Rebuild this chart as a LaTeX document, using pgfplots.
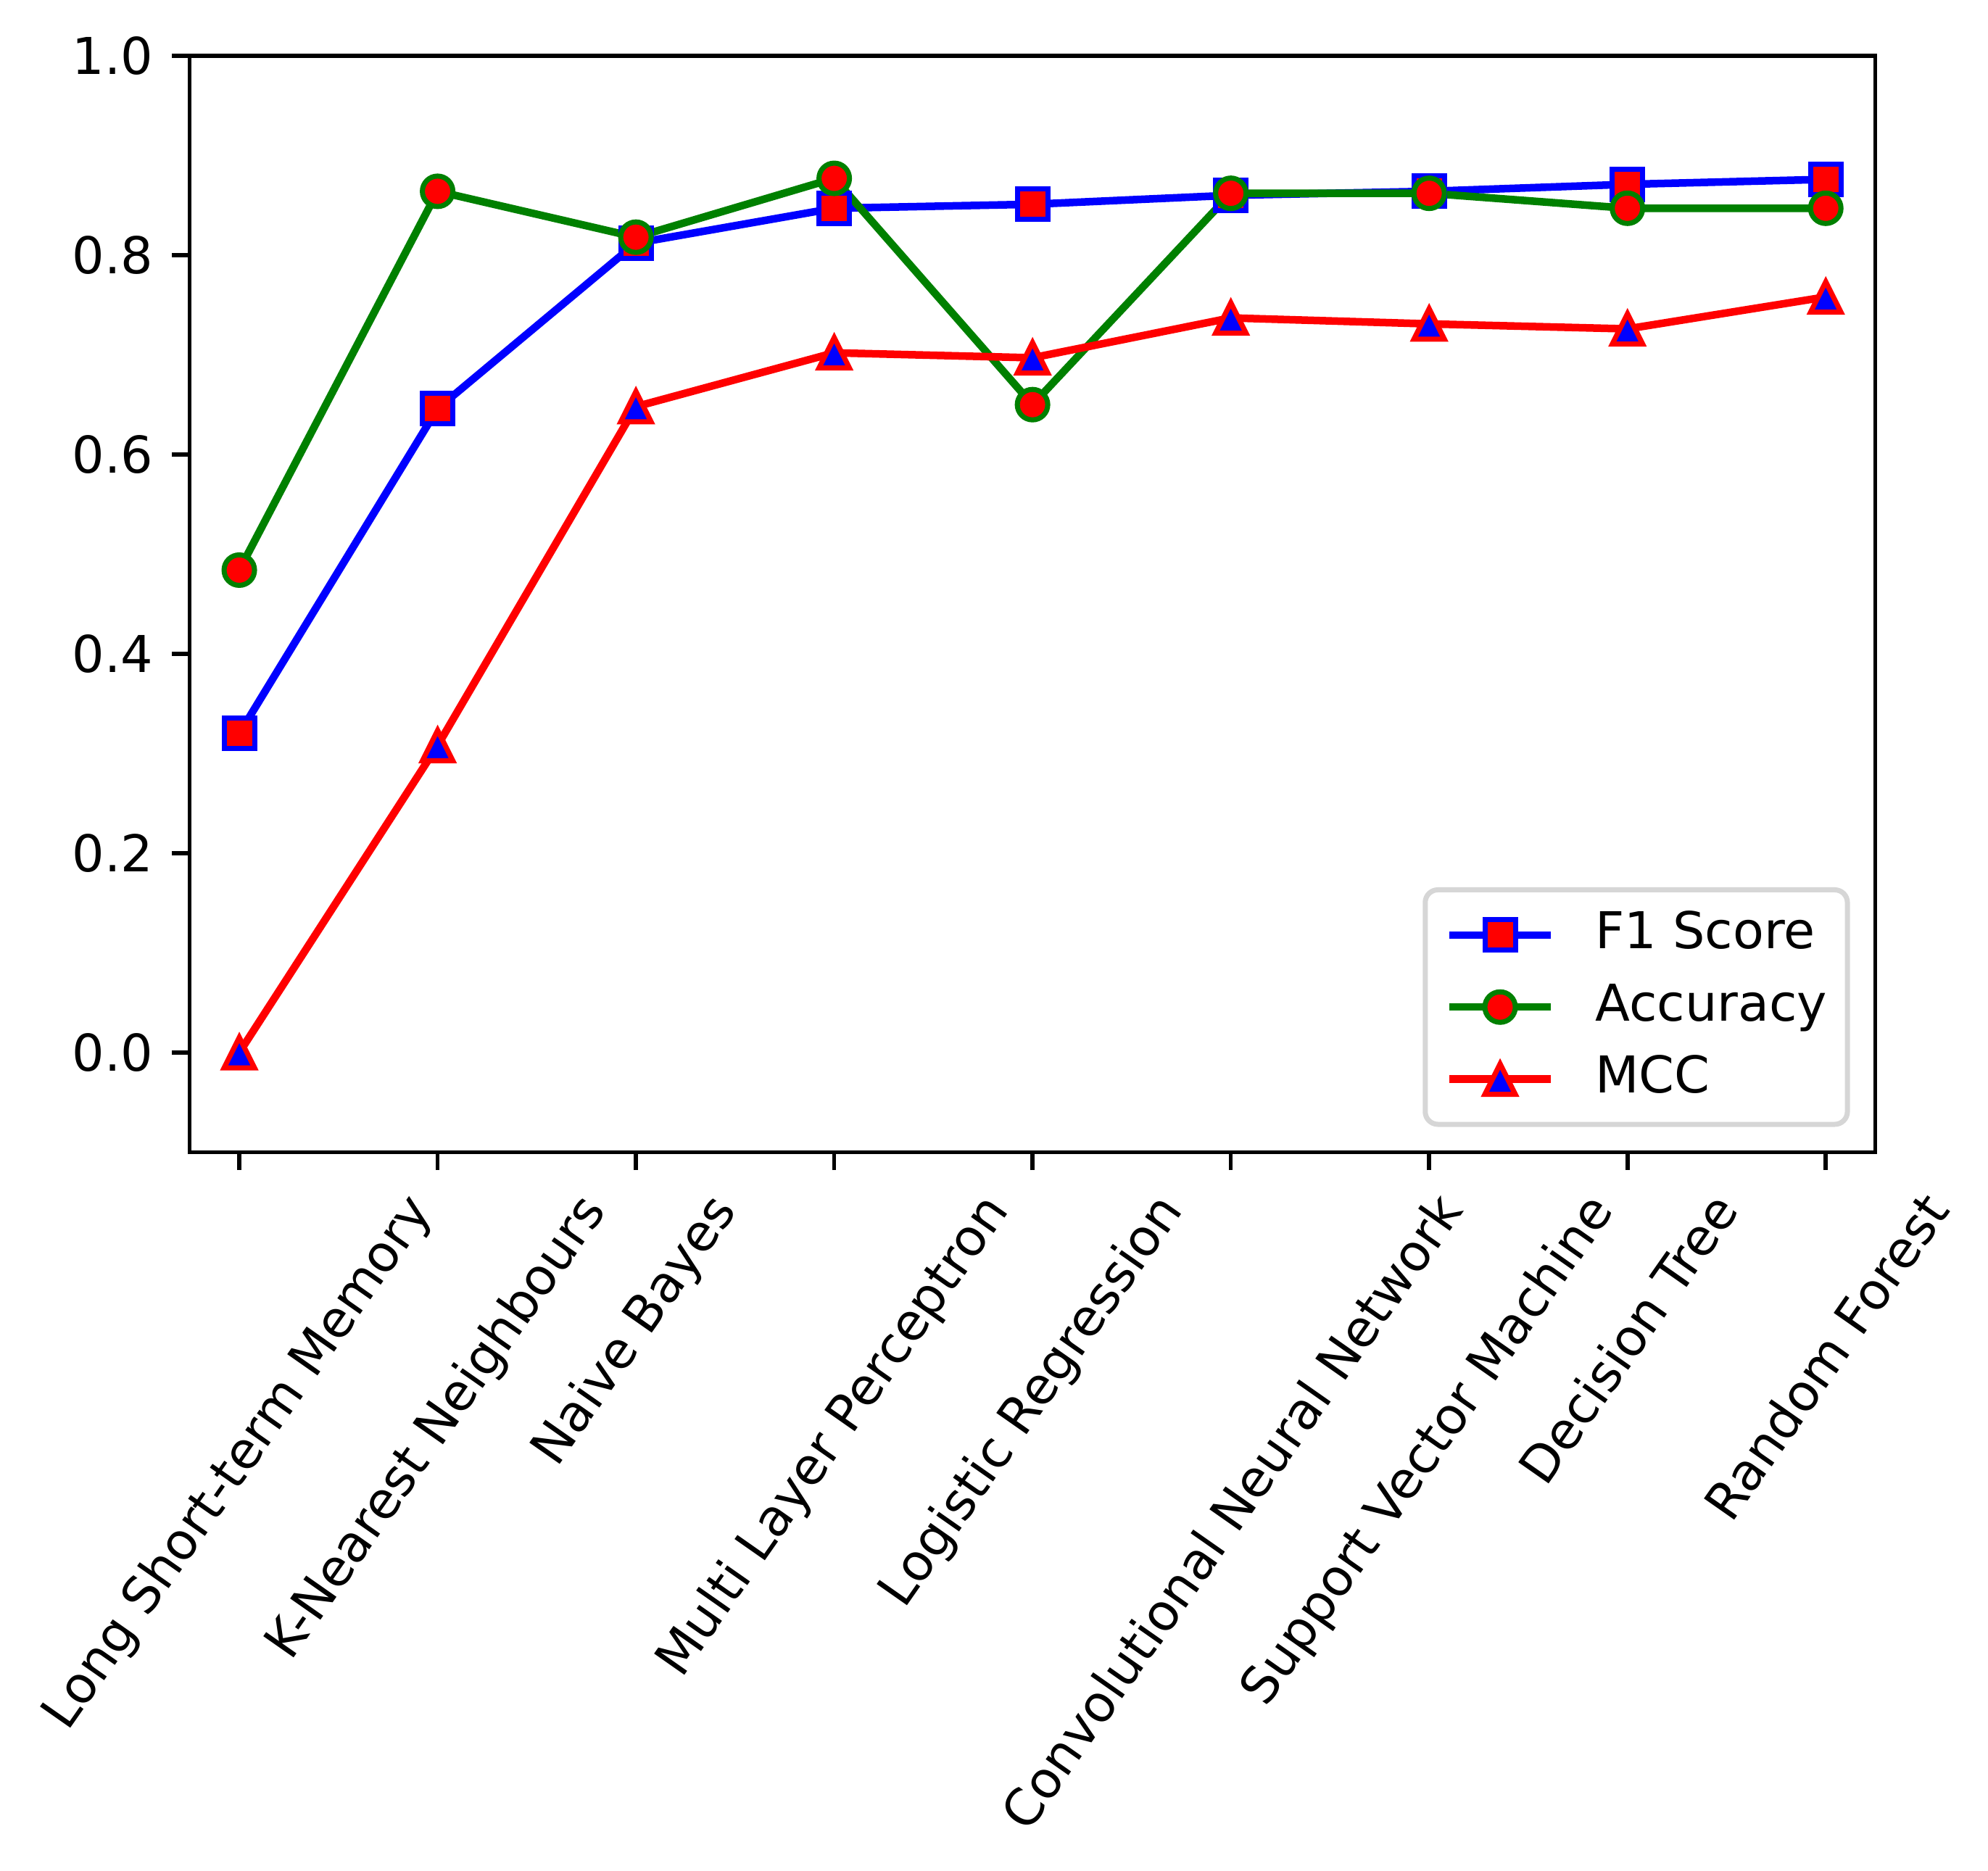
\documentclass[border=0pt]{standalone}
\usepackage{fontspec}
\setmainfont{DejaVu Sans}
\usepackage{graphicx}
\usepackage{pgfplots}
\usepackage{pgfplotstable}
\pgfplotsset{compat=1.18}

\definecolor{mplgreen}{HTML}{008000}
\definecolor{legedge}{HTML}{D6D6D6}

% matplotlib-like '^' marker: as wide as it is tall, centred at mid-height
\pgfdeclareplotmark{mpltri}{%
  \pgfpathmoveto{\pgfqpoint{0pt}{\pgfplotmarksize}}%
  \pgfpathlineto{\pgfqpoint{-\pgfplotmarksize}{-\pgfplotmarksize}}%
  \pgfpathlineto{\pgfqpoint{\pgfplotmarksize}{-\pgfplotmarksize}}%
  \pgfpathclose
  \pgfusepathqfillstroke}

% 0 LSTM, 1 KNN, 2 NB, 3 MLP, 4 LR, 5 CNN, 6 SVM, 7 DT, 8 RF
\pgfplotstableread{
x  f1     acc    mcc
0  0.320  0.484  0.000
1  0.646  0.864  0.308
2  0.812  0.818  0.648
3  0.847  0.877  0.702
4  0.851  0.650  0.697
5  0.860  0.862  0.737
6  0.864  0.862  0.731
7  0.871  0.847  0.726
8  0.876  0.847  0.758
}\scores

\begin{document}
\begin{tikzpicture}
\begin{axis}[
  scale only axis,
  width=332pt, height=216pt,
  xmin=-0.25, xmax=8.25,
  ymin=-0.1, ymax=1.0,
  xtick={0,1,2,3,4,5,6,7,8},
  xticklabels={
    \rotatebox{55}{Long Short-term Memory},
    \rotatebox{55}{K-Nearest Neighbours},
    \rotatebox{55}{Naive Bayes},
    \rotatebox{55}{Multi Layer Perceptron},
    \rotatebox{55}{Logistic Regression},
    \rotatebox{55}{Convolutional Neural Network},
    \rotatebox{55}{Support Vector Machine},
    \rotatebox{55}{Decision Tree},
    \rotatebox{55}{Random Forest}},
  xticklabel style={anchor=north, inner sep=0pt, yshift=-3.5pt},
  ytick={0,0.2,0.4,0.6,0.8,1.0},
  yticklabel style={inner sep=0pt, xshift=-3.5pt,
    /pgf/number format/.cd, fixed, fixed zerofill, precision=1, assume math mode=true},
  tick align=outside,
  tick pos=left,
  major tick length=3.5pt,
  every tick/.style={black, line width=0.8pt},
  axis line style={line width=0.8pt},
  legend image code/.code={
    \draw[sharp corners, mark repeat=2, mark phase=2]
      plot coordinates {(0pt,0pt) (10pt,0pt) (20pt,0pt)};
  },
  legend cell align=left,
  legend style={
    at={(1,0)}, anchor=south east, xshift=-5pt, yshift=5pt,
    draw=legedge, line width=1pt, rounded corners=2.5pt, fill=white,
    inner xsep=4pt, inner ysep=4pt, row sep=4.4pt, column sep=8pt,
    nodes={inner sep=0pt, text height=7.6pt, text depth=2.2pt},
  },
]
\addplot[blue, line width=1.5pt, mark=square*, mark size=3pt,
  mark options={draw=blue, fill=red, line width=1pt}]
  table[x=x, y=f1] {\scores};
\addlegendentry{F1 Score}

\addplot[mplgreen, line width=1.5pt, mark=*, mark size=3pt,
  mark options={draw=mplgreen, fill=red, line width=1pt}]
  table[x=x, y=acc] {\scores};
\addlegendentry{Accuracy}

\addplot[red, line width=1.5pt, mark=mpltri, mark size=3pt,
  mark options={draw=red, fill=blue, line width=1pt}]
  table[x=x, y=mcc] {\scores};
\addlegendentry{MCC}
\end{axis}
% bbox_inches tight padding
\path (current bounding box.south west) ++(-7.2pt,-7.2pt);
\path (current bounding box.north east) ++(7.2pt,7.2pt);
\end{tikzpicture}
\end{document}
